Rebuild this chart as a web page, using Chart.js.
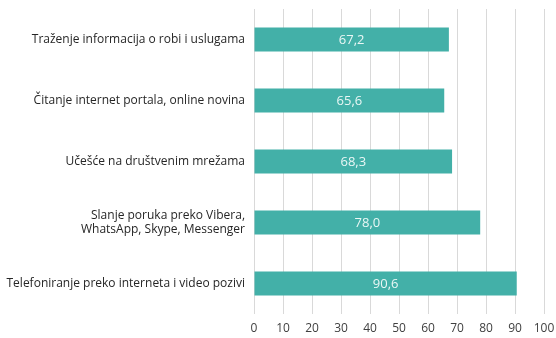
<!DOCTYPE html>
<html>
<head>
<meta charset="utf-8">
<script src="https://cdn.jsdelivr.net/npm/chart.js@4"></script>
<style>
  html, body { margin: 0; padding: 0; background: #ffffff; }
  #wrap { width: 556px; height: 338px; }
</style>
</head>
<body>
<div id="wrap"><canvas id="usageChart"></canvas></div>
<script>
// kategorije i vrijednosti (%)
const categories = [
  'Traženje informacija o robi i uslugama',
  'Čitanje internet portala, online novina',
  'Učešće na društvenim mrežama',
  ['Slanje poruka preko Vibera,', 'WhatsApp, Skype, Messenger'],
  'Telefoniranje preko interneta i video pozivi'
];
const values = [67.2, 65.6, 68.3, 78.0, 90.6];
const xTicks = [0, 10, 20, 30, 40, 50, 60, 70, 80, 90, 100];

const barColor = '#43b0a8';
const fontFamily = "'Open Sans', 'Noto Sans', sans-serif";

// ispis vrijednosti unutar trake (decimalni zarez)
const barValueLabels = {
  id: 'barValueLabels',
  afterDatasetsDraw(chart) {
    const ctx = chart.ctx;
    const meta = chart.getDatasetMeta(0);
    ctx.save();
    ctx.fillStyle = '#eaf7f5';
    ctx.font = '13px ' + fontFamily;
    ctx.textAlign = 'center';
    ctx.textBaseline = 'middle';
    meta.data.forEach((bar, i) => {
      const cx = (bar.base + bar.x) / 2;
      ctx.fillText(values[i].toFixed(1).replace('.', ','), cx, bar.y + 1);
    });
    ctx.restore();
  }
};

const chart = new Chart(document.getElementById('usageChart').getContext('2d'), {
  type: 'bar',
  data: {
    labels: categories,
    datasets: [{
      data: values,
      backgroundColor: barColor,
      borderWidth: 0,
      barPercentage: 0.39,
      categoryPercentage: 1.0
    }]
  },
  options: {
    indexAxis: 'y',
    responsive: true,
    maintainAspectRatio: false,
    animation: false,
    layout: { padding: { top: 9, right: 12, bottom: 0, left: 0 } },
    plugins: {
      legend: { display: false },
      title: { display: false },
      tooltip: { enabled: false }
    },
    scales: {
      x: {
        min: 0,
        max: 100,
        afterBuildTicks: (axis) => { axis.ticks = xTicks.map(v => ({ value: v })); },
        afterFit: (axis) => {
          axis.height = 24;
          axis.paddingLeft = 0;
          axis.paddingRight = 0;
        },
        grid: { color: '#d9d9d9', lineWidth: 1, drawTicks: false },
        border: { display: false },
        ticks: {
          color: '#404040',
          font: { family: fontFamily, size: 12 },
          padding: 7
        }
      },
      y: {
        afterFit: (axis) => {
          axis.width = 254;
          axis.paddingTop = 0;
          axis.paddingBottom = 0;
        },
        grid: { display: false, drawTicks: false },
        border: { display: false },
        ticks: {
          color: '#262626',
          font: { family: fontFamily, size: 12 },
          padding: 9
        }
      }
    }
  },
  plugins: [barValueLabels]
});
</script>
</body>
</html>
